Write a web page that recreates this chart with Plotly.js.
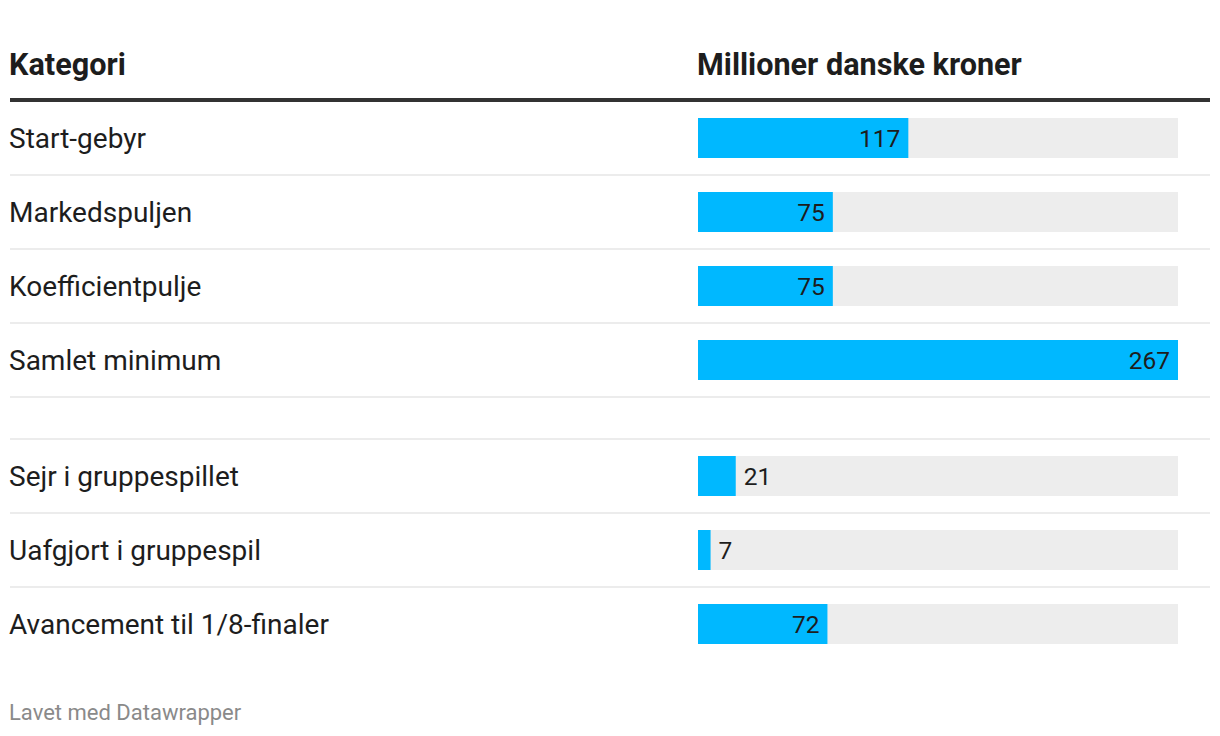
<!DOCTYPE html>
<html><head><meta charset="utf-8">
<script src="https://cdn.plot.ly/plotly-3.0.1.min.js"></script>
<style>html,body{margin:0;padding:0;background:#fff}#chart{width:1220px;height:736px}</style>
</head><body><div id="chart"></div>
<script>
const categories = ["Start-gebyr","Markedspuljen","Koefficientpulje","Samlet minimum","Sejr i gruppespillet","Uafgjort i gruppespil","Avancement til 1/8-finaler"];
const values = [117, 75, 75, 267, 21, 7, 72];
const groups = [0, 0, 0, 0, 1, 1, 1];
const headerLabel = "Kategori";
const headerValue = "Millioner danske kroner";
const footer = "Lavet med Datawrapper";

// layout constants (pixels)
const W = 1220, H = 736;
const rowH = 74, firstCenter = 138, groupGap = 42, barH = 40;
const barLeft = 698, barRight = 1178, textLeft = 10, lineRight = 1210, annPad = 3;
const maxVal = Math.max(...values);

const yc = values.map((v, i) => firstCenter + i * rowH + groups[i] * groupGap);

const bg = {
  type: 'bar', orientation: 'h', x: values.map(() => maxVal), y: yc, width: barH,
  marker: {color: '#ededed'}, hoverinfo: 'skip', showlegend: false
};
const bars = {
  type: 'bar', orientation: 'h', x: values, y: yc, width: barH,
  marker: {color: '#00b8ff'},
  text: values.map(v => v / maxVal > 0.12 ? v + '\u2009' : '\u2009' + v),
  textposition: values.map(v => v / maxVal > 0.12 ? 'inside' : 'outside'),
  insidetextanchor: 'end',
  constraintext: 'none',
  cliponaxis: false,
  textfont: {family: 'Roboto', size: 24.5, color: '#1d1d1d'},
  showlegend: false
};

const shapes = [];
shapes.push({type: 'line', xref: 'paper', yref: 'y', x0: textLeft / W, x1: lineRight / W, y0: 100, y1: 100, line: {color: '#333333', width: 4}});
const seps = [];
yc.forEach((c, i) => { seps.push(c + rowH / 2); });
const firstG2 = groups.indexOf(1);
seps.splice(firstG2, 0, yc[firstG2] - rowH / 2);
seps.pop();
seps.forEach(s => shapes.push({type: 'line', xref: 'paper', yref: 'y', x0: textLeft / W, x1: lineRight / W, y0: s, y1: s, line: {color: '#ececec', width: 2}}));

const ax = (textLeft - annPad) / W, bx = (barLeft - annPad) / W;
const annotations = [];
annotations.push({xref: 'paper', yref: 'y', x: ax, y: 64, xanchor: 'left', yanchor: 'middle', text: '<b>' + headerLabel + '</b>', showarrow: false, font: {family: 'Roboto', size: 30.6, color: '#1d1d1d'}});
annotations.push({xref: 'paper', yref: 'y', x: bx, y: 64, xanchor: 'left', yanchor: 'middle', text: '<b>' + headerValue + '</b>', showarrow: false, font: {family: 'Roboto', size: 30.6, color: '#1d1d1d'}});
categories.forEach((c, i) => annotations.push({xref: 'paper', yref: 'y', x: ax, y: yc[i], xanchor: 'left', yanchor: 'middle', text: c, showarrow: false, font: {family: 'Roboto', size: 28, color: '#1d1d1d'}}));
annotations.push({xref: 'paper', yref: 'y', x: ax, y: 712, xanchor: 'left', yanchor: 'middle', text: footer, showarrow: false, font: {family: 'Roboto', size: 22, color: '#8a8a8a'}});

const layout = {
  width: W, height: H, margin: {l: 0, r: 0, t: 0, b: 0},
  paper_bgcolor: '#fff', plot_bgcolor: 'rgba(0,0,0,0)',
  barmode: 'overlay',
  xaxis: {domain: [barLeft / W, barRight / W], range: [0, maxVal], visible: false, fixedrange: true},
  yaxis: {domain: [0, 1], range: [H, 0], visible: false, fixedrange: true},
  shapes: shapes, annotations: annotations, showlegend: false
};
Plotly.newPlot('chart', [bg, bars], layout, {displayModeBar: false, staticPlot: true});
</script></body></html>
